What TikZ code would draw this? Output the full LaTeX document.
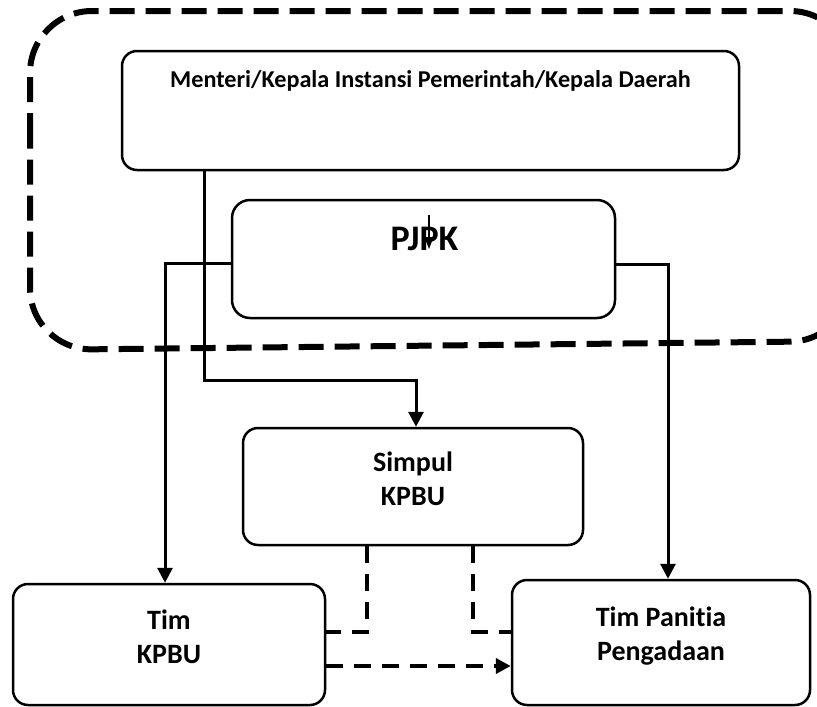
\documentclass[tikz,border=0pt]{standalone}
\usepackage{fontspec}
\setmainfont{Carlito}[Ligatures=NoCommon]
\usetikzlibrary{arrows.meta}

\begin{document}
\begin{tikzpicture}[x=1pt,y=-1pt,
  box/.style={draw, line width=2.5pt, rounded corners=15pt, inner sep=0pt},
  txt/.style={font=\bfseries\fontsize{28}{34}\selectfont, align=center},
  solidline/.style={line width=3pt},
  tip/.style={-{Triangle[length=15pt,width=15pt]}},
  dashline/.style={line width=4pt, dash pattern=on 17pt off 11pt},
  outline/.style={line width=6pt, dash pattern=on 25pt off 11pt, rounded corners=62pt}
]
\useasboundingbox (0,0) rectangle (817,707);
\clip (0,0) rectangle (817,707);

% grouping outline
\draw[outline] (30,200) -- (30,11) -- (852,11) -- (852,341) -- (30,350) -- cycle;

% boxes
\node[box, minimum width=617pt, minimum height=119pt,
      label={[font=\bfseries\fontsize{24.2}{29}\selectfont, yshift=29.5pt]center:Menteri/Kepala Instansi Pemerintah/Kepala Daerah}]
      (top) at (430.5,110.5) {};
\node[box, rounded corners=18pt, minimum width=383pt, minimum height=118pt,
      label={[font=\bfseries\fontsize{36}{43}\selectfont, xshift=1pt, yshift=20.5pt]center:PJPK}]
      (pjpk) at (423.5,259) {};
\node[box, minimum width=340pt, minimum height=117pt,
      label={[txt, yshift=8pt]center:Simpul\\KPBU}]
      (simpul) at (413,486.5) {};
\node[box, minimum width=312pt, minimum height=121pt,
      label={[txt, yshift=8pt]center:Tim\\KPBU}]
      (timkpbu) at (169,644.5) {};
\node[box, minimum width=298pt, minimum height=125pt,
      label={[txt, yshift=6pt]center:Tim Panitia\\Pengadaan}]
      (panitia) at (661,642.5) {};

% bend points
\coordinate (a1) at (204,380);
\coordinate (a2) at (416,380);
\coordinate (l1) at (165,263);
\coordinate (r1) at (668,264);
\coordinate (p1) at (429,215);
\coordinate (p2) at (429,249);
\coordinate (d1) at (367,632);
\coordinate (d2) at (473,632);
\coordinate (h1) at (0,666);

% solid connectors
\draw[solidline, tip] (top.south -| a1) -- (a1) -- (a2) -- (simpul.north -| a2);
\draw[solidline, tip] (pjpk.west |- l1) -- (l1) -- (timkpbu.north -| l1);
\draw[solidline, tip] (pjpk.east |- r1) -- (r1) -- (panitia.north -| r1);
\draw[line width=1.5pt, -{Triangle[length=12pt,width=9pt]}] (p1) -- (p2);

% dashed connectors
\draw[dashline] (simpul.south -| d1) -- (d1) -- (timkpbu.east |- d1);
\draw[dashline] (simpul.south -| d2) -- (d2) -- (panitia.west |- d2);
\draw[dashline, tip] (timkpbu.east |- h1) -- (panitia.west |- h1);
\end{tikzpicture}
\end{document}
